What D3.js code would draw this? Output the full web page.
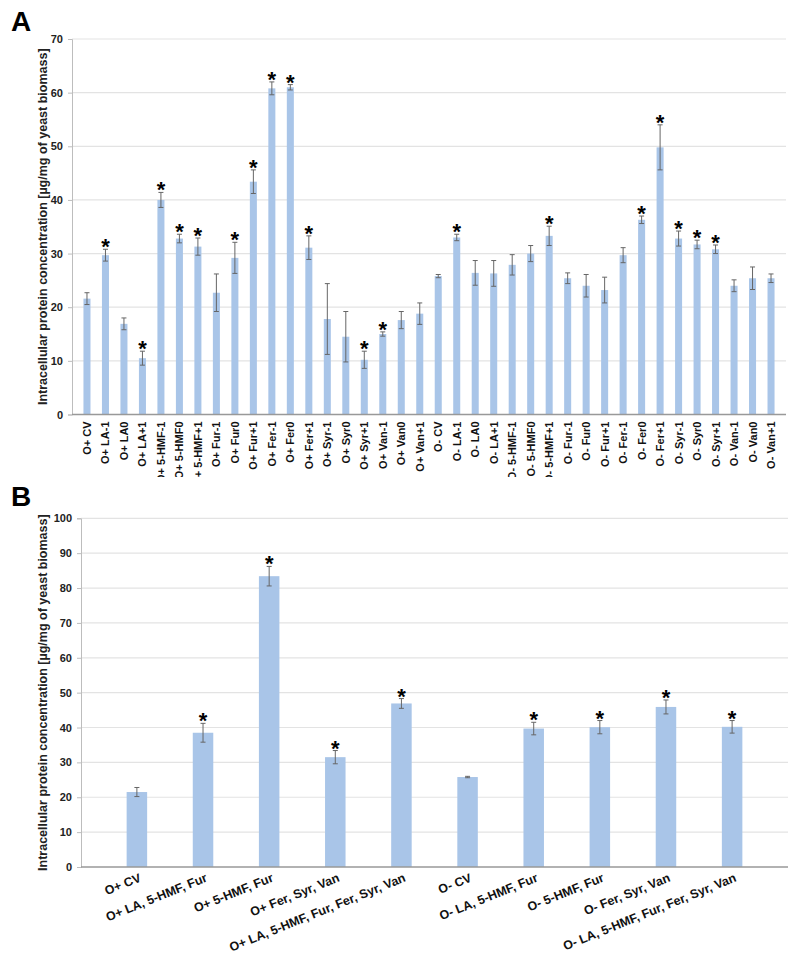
<!DOCTYPE html>
<html>
<head>
<meta charset="utf-8">
<script src="https://cdn.jsdelivr.net/npm/d3@7"></script>
<style>
  body { margin: 0; background: #fff; }
  svg { font-family: "Liberation Sans", Arial, sans-serif; }
</style>
</head>
<body>
<script>
const [width, height] = [800, 974];

// panel A
const labelsA = ['O+ CV', 'O+ LA-1', 'O+ LA0', 'O+ LA+1', 'O+ 5-HMF-1', 'O+ 5-HMF0', 'O+ 5-HMF+1',
  'O+ Fur-1', 'O+ Fur0', 'O+ Fur+1', 'O+ Fer-1', 'O+ Fer0', 'O+ Fer+1', 'O+ Syr-1', 'O+ Syr0',
  'O+ Syr+1', 'O+ Van-1', 'O+ Van0', 'O+ Van+1', 'O- CV', 'O- LA-1', 'O- LA0', 'O- LA+1',
  'O- 5-HMF-1', 'O- 5-HMF0', 'O- 5-HMF+1', 'O- Fur-1', 'O- Fur0', 'O- Fur+1', 'O- Fer-1',
  'O- Fer0', 'O- Fer+1', 'O- Syr-1', 'O- Syr0', 'O- Syr+1', 'O- Van-1', 'O- Van0', 'O- Van+1'];
const valuesA = [21.6, 29.7, 16.9, 10.5, 40.0, 32.8, 31.3, 22.7, 29.2, 43.4, 60.8, 61.0, 31.1,
  17.8, 14.5, 10.2, 15.0, 17.6, 18.8, 25.8, 33.0, 26.4, 26.3, 27.9, 30.0, 33.3, 25.4, 24.0,
  23.2, 29.7, 36.3, 49.8, 32.8, 31.7, 30.8, 24.0, 25.4, 25.4];
const errorsA = [1.1, 1.1, 1.1, 1.3, 1.4, 0.8, 1.6, 3.5, 2.9, 2.2, 1.2, 0.5, 2.2, 6.6, 4.7, 1.6,
  0.4, 1.6, 2.0, 0.3, 0.6, 2.3, 2.4, 1.9, 1.5, 1.8, 1.0, 2.1, 2.4, 1.4, 0.7, 4.2, 1.4, 0.8,
  0.8, 1.1, 2.1, 0.8];
const starsA = [0, 1, 0, 1, 1, 1, 1, 0, 1, 1, 1, 1, 1, 0, 0, 1, 1, 0, 0, 0, 1, 0, 0, 0, 0, 1,
  0, 0, 0, 0, 1, 1, 1, 1, 1, 0, 0, 0];
const ticksA = [0, 10, 20, 30, 40, 50, 60, 70];

// panel B
const labelsB = ['O+ CV', 'O+ LA, 5-HMF, Fur', 'O+ 5-HMF, Fur', 'O+ Fer, Syr, Van',
  'O+ LA, 5-HMF, Fur, Fer, Syr, Van', 'O- CV', 'O- LA, 5-HMF, Fur', 'O- 5-HMF, Fur',
  'O- Fer, Syr, Van', 'O- LA, 5-HMF, Fur, Fer, Syr, Van'];
const valuesB = [21.5, 38.5, 83.4, 31.5, 46.9, 25.8, 39.7, 40.1, 45.9, 40.2];
const errorsB = [1.3, 2.7, 2.8, 1.9, 1.4, 0.2, 1.8, 1.9, 2.0, 1.8];
const starsB = [0, 1, 1, 1, 1, 0, 1, 1, 1, 1];
const ticksB = [0, 10, 20, 30, 40, 50, 60, 70, 80, 90, 100];

const yTitle = 'Intracellular protein concentration [µg/mg of yeast biomass]';
const barColor = '#a9c5e8';

const svg = d3.select('body')
  .append('svg')
  .attr('width', width)
  .attr('height', height);

svg.append('defs')
  .append('clipPath')
  .attr('id', 'clipA')
  .append('rect')
  .attr('x', 0).attr('y', 0)
  .attr('width', width).attr('height', 477);

function panel(opt) {
  const x = d3.scaleBand()
    .domain(opt.labels)
    .range([opt.x0, opt.x1])
    .padding(opt.pad);
  const y = d3.scaleLinear()
    .domain([0, opt.max])
    .range([opt.y0, opt.y1]);

  const g = svg.append('g');

  // gridlines
  g.append('g')
    .selectAll('line')
    .data(opt.ticks.slice(1))
    .enter()
    .append('line')
    .attr('x1', opt.x0).attr('x2', opt.x1)
    .attr('y1', d => y(d)).attr('y2', d => y(d))
    .attr('stroke', '#e3e3e3')
    .attr('stroke-width', 1.2);

  // y axis
  const axisY = g.append('g')
    .attr('transform', `translate(${opt.x0}, 0)`)
    .call(d3.axisLeft(y).tickValues(opt.ticks).tickSize(4).tickPadding(5));
  axisY.select('.domain').attr('stroke', '#bdbdbd');
  axisY.selectAll('.tick line').attr('stroke', '#bdbdbd');
  axisY.selectAll('.tick text')
    .attr('font-size', '11px')
    .attr('font-weight', 'bold')
    .attr('fill', '#222');

  const data = opt.labels.map((d, i) => ({label: d, v: opt.values[i], e: opt.errors[i], s: opt.stars[i]}));

  // bars
  g.append('g')
    .selectAll('rect')
    .data(data)
    .enter()
    .append('rect')
    .attr('x', d => x(d.label))
    .attr('width', x.bandwidth())
    .attr('y', d => y(d.v))
    .attr('height', d => y(0) - y(d.v))
    .attr('fill', barColor);

  // error bars
  const eb = g.append('g')
    .attr('stroke', '#666')
    .attr('stroke-width', 1)
    .selectAll('g')
    .data(data)
    .enter()
    .append('g')
    .attr('transform', d => `translate(${x(d.label) + x.bandwidth() / 2}, 0)`);
  eb.append('line')
    .attr('y1', d => y(d.v - d.e)).attr('y2', d => y(d.v + d.e));
  eb.append('line')
    .attr('x1', -2.5).attr('x2', 2.5)
    .attr('y1', d => y(d.v + d.e)).attr('y2', d => y(d.v + d.e));
  eb.append('line')
    .attr('x1', -2.5).attr('x2', 2.5)
    .attr('y1', d => y(d.v - d.e)).attr('y2', d => y(d.v - d.e));

  // significance stars
  g.append('g')
    .selectAll('text')
    .data(data.filter(d => d.s))
    .enter()
    .append('text')
    .attr('x', d => x(d.label) + x.bandwidth() / 2)
    .attr('y', d => y(d.v + d.e) + 5)
    .attr('text-anchor', 'middle')
    .attr('font-size', '22px')
    .attr('font-weight', 'bold')
    .text('*');

  // x axis line
  g.append('line')
    .attr('x1', opt.x0).attr('x2', opt.x1)
    .attr('y1', y(0)).attr('y2', y(0))
    .attr('stroke', '#999')
    .attr('stroke-width', 1.5);

  // category labels
  const lab = g.append('g')
    .attr('clip-path', opt.clip ? `url(#${opt.clip})` : null)
    .selectAll('text')
    .data(data)
    .enter()
    .append('text')
    .attr('font-size', opt.labelSize)
    .attr('font-weight', 'bold')
    .attr('fill', '#111')
    .attr('text-anchor', 'end')
    .text(d => d.label);
  if (opt.rotate === -90) {
    lab.attr('transform', d => `translate(${x(d.label) + x.bandwidth() / 2 + 4}, ${y(0) + 7}) rotate(-90)`);
  } else {
    lab.attr('transform', d => `translate(${x(d.label) + x.bandwidth() / 2 + 5}, ${y(0) + 14}) rotate(${opt.rotate})`);
  }

  // y title
  g.append('text')
    .attr('transform', `translate(${opt.titleX}, ${(opt.y0 + opt.y1) / 2}) rotate(-90)`)
    .attr('text-anchor', 'middle')
    .attr('font-size', '12.5px')
    .attr('font-weight', 'bold')
    .attr('fill', '#222')
    .text(yTitle);

  // panel letter
  svg.append('text')
    .attr('x', 11).attr('y', opt.letterY)
    .attr('font-size', '28px')
    .attr('font-weight', 'bold')
    .text(opt.letter);
}

panel({
  labels: labelsA, values: valuesA, errors: errorsA, stars: starsA, ticks: ticksA,
  max: 70, x0: 72, x1: 786, y0: 414.5, y1: 39, pad: 0.62,
  rotate: -90, labelSize: '11px', clip: 'clipA', titleX: 47, letter: 'A', letterY: 31
});

panel({
  labels: labelsB, values: valuesB, errors: errorsB, stars: starsB, ticks: ticksB,
  max: 100, x0: 81, x1: 788, y0: 867, y1: 518.3, pad: 0.69,
  rotate: -22, labelSize: '12.5px', clip: null, titleX: 47, letter: 'B', letterY: 506
});
</script>
</body>
</html>
